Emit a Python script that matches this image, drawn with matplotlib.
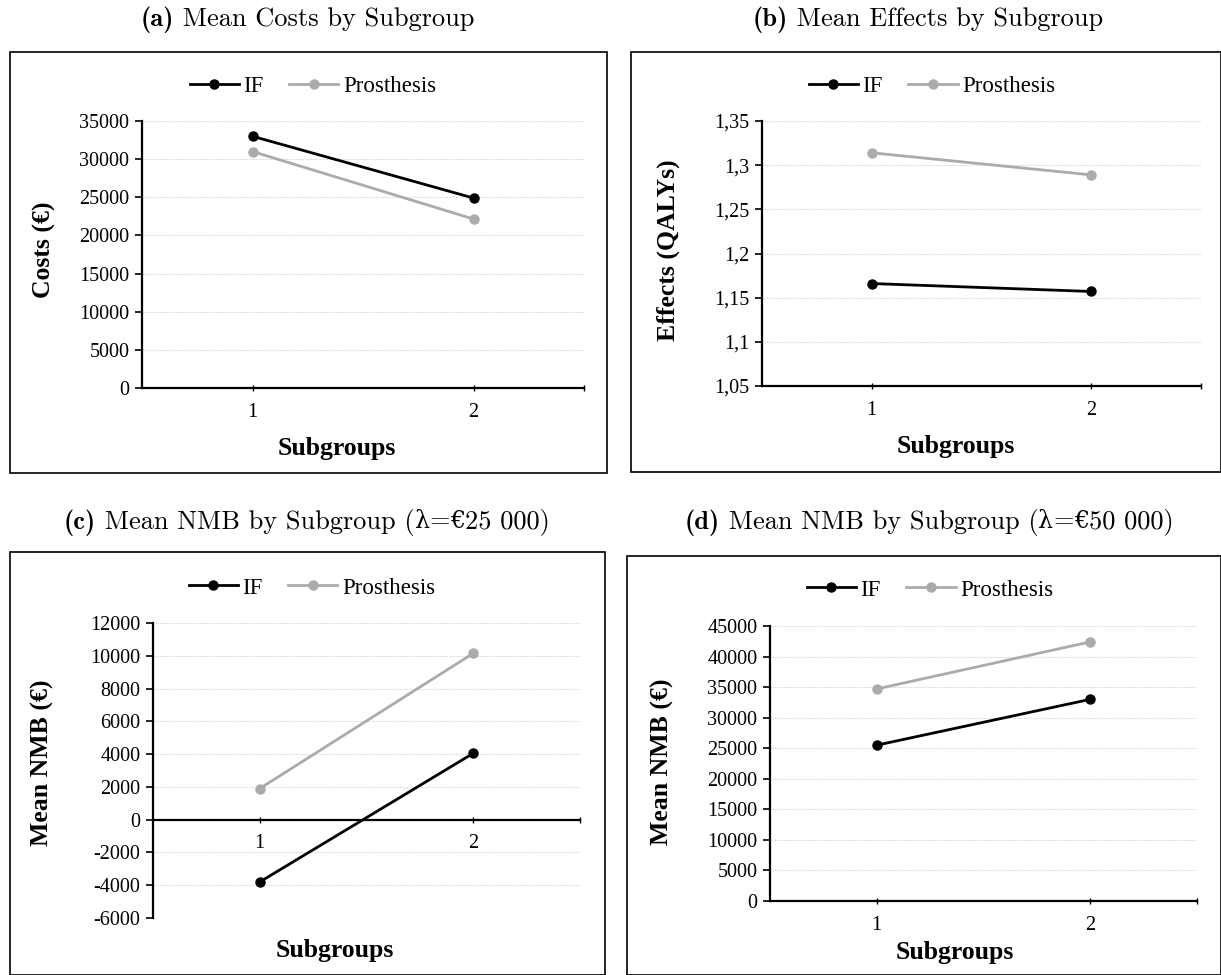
import matplotlib
matplotlib.use("Agg")
import matplotlib.pyplot as plt
from matplotlib.patches import Rectangle
from matplotlib.offsetbox import TextArea, HPacker, AnchoredOffsetbox

# ---------------- data ----------------
subgroups = [1, 2]
series_names = ["IF", "Prosthesis"]

costs_if = [33000, 24900]
costs_pros = [31000, 22150]

effects_if = [1.166, 1.157]
effects_pros = [1.314, 1.289]

nmb25_if = [-3800, 4050]
nmb25_pros = [1900, 10150]

nmb50_if = [25500, 33000]
nmb50_pros = [34700, 42400]

# title pieces: (text, font role)
titles = [
    [("(a)", "bold"), (" Mean Costs by Subgroup", "cm")],
    [("(b)", "bold"), (" Mean Effects by Subgroup", "cm")],
    [("(c)", "bold"), (" Mean NMB by Subgroup (", "cm"), ("λ", "sym"), ("=", "cm"),
     ("€", "sym"), ("25 000)", "cm")],
    [("(d)", "bold"), (" Mean NMB by Subgroup (", "cm"), ("λ", "sym"), ("=", "cm"),
     ("€", "sym"), ("50 000)", "cm")],
]
ylabels = ["Costs (€)", "Effects (QALYs)", "Mean NMB (€)", "Mean NMB (€)"]
xlabel = "Subgroups"

yticks_a = [0, 5000, 10000, 15000, 20000, 25000, 30000, 35000]
yticks_b = [1.05, 1.1, 1.15, 1.2, 1.25, 1.3, 1.35]
ytick_labels_b = ["1,05", "1,1", "1,15", "1,2", "1,25", "1,3", "1,35"]
yticks_c = [-6000, -4000, -2000, 0, 2000, 4000, 6000, 8000, 10000, 12000]
yticks_d = [0, 5000, 10000, 15000, 20000, 25000, 30000, 35000, 40000, 45000]

# ---------------- style ----------------
W, H = 1221, 975
plt.rcParams["axes.unicode_minus"] = False
SERIF = ["Liberation Serif", "DejaVu Serif"]
FONT_ROLE = {"bold": (["cmb10", "DejaVu Serif"], 19),
             "cm": (["cmr10", "DejaVu Serif"], 19),
             "sym": (["DejaVu Serif"], 17)}
C_IF = "black"
C_PR = "#ababab"

fig = plt.figure(figsize=(W / 100, H / 100), dpi=100)
fig.patch.set_facecolor("white")


def px_rect(x0, y0, x1, y1):
    return [x0 / W, 1 - y1 / H, (x1 - x0) / W, (y1 - y0) / H]


def add_title(parts, x, y):
    children = []
    for txt, role in parts:
        fam, size = FONT_ROLE[role]
        children.append(TextArea(txt, textprops=dict(family=fam, size=size, color="black")))
    box = HPacker(children=children, align="baseline", pad=0, sep=0)
    anch = AnchoredOffsetbox(loc="center", child=box, pad=0, borderpad=0, frameon=False,
                             bbox_to_anchor=(x / W, 1 - y / H), bbox_transform=fig.transFigure)
    fig.add_artist(anch)


panels = [
    dict(ax=(142, 121, 584, 388), frame=(10, 52, 607, 473), title=(307, 20),
         legend=(313, 86), ylab=(44, 250), xlab=(337, 449),
         d_if=costs_if, d_pr=costs_pros, yt=yticks_a, ytl=None, zero=False),
    dict(ax=(762, 121, 1201, 386), frame=(631, 52, 1221, 472), title=(928, 20),
         legend=(932, 86), ylab=(668, 250), xlab=(956, 447),
         d_if=effects_if, d_pr=effects_pros, yt=yticks_b, ytl=ytick_labels_b, zero=False),
    dict(ax=(153, 623, 580, 918), frame=(10, 552, 605, 975), title=(307, 522),
         legend=(312, 588), ylab=(42, 763), xlab=(335, 950),
         d_if=nmb25_if, d_pr=nmb25_pros, yt=yticks_c, ytl=None, zero=True),
    dict(ax=(770, 626, 1197, 901), frame=(627, 556, 1221, 975), title=(929, 522),
         legend=(930, 590), ylab=(662, 762), xlab=(955, 953),
         d_if=nmb50_if, d_pr=nmb50_pros, yt=yticks_d, ytl=None, zero=False),
]

for i, p in enumerate(panels):
    fx0, fy0, fx1, fy1 = p["frame"]
    fig.patches.append(Rectangle((fx0 / W, 1 - fy1 / H), (fx1 - fx0) / W, (fy1 - fy0) / H,
                                 transform=fig.transFigure, fill=False,
                                 edgecolor="black", linewidth=1.2, zorder=0))
    ax = fig.add_axes(px_rect(*p["ax"]))
    ax.set_facecolor("none")
    ax.plot(subgroups, p["d_if"], color=C_IF, lw=2.0, marker="o", ms=6.5,
            label=series_names[0], zorder=4, clip_on=False)
    ax.plot(subgroups, p["d_pr"], color=C_PR, lw=2.0, marker="o", ms=6.5,
            label=series_names[1], zorder=3, clip_on=False)
    ax.set_xlim(0.5, 2.5)
    ax.set_ylim(p["yt"][0], p["yt"][-1])
    ax.set_yticks(p["yt"])
    if p["ytl"] is not None:
        ax.set_yticklabels(p["ytl"])
    ax.set_xticks(subgroups)
    ax.set_xticks([2.5], minor=True)
    ax.grid(axis="y", color="#d4d4d4", linestyle=(0, (1, 1)), linewidth=0.8, zorder=0)
    ax.set_axisbelow(True)
    for s in ["top", "right"]:
        ax.spines[s].set_visible(False)
    for s in ["left", "bottom"]:
        ax.spines[s].set_linewidth(1.6)
    if p["zero"]:
        ax.spines["bottom"].set_position(("data", 0))
    ax.tick_params(axis="y", direction="out", length=5, width=1.2, labelsize=14.5, pad=4)
    ax.tick_params(axis="x", which="both", direction="inout", length=5, width=1.0,
                   labelsize=14.5, pad=8)
    for lab in ax.get_xticklabels() + ax.get_yticklabels():
        lab.set_family(SERIF)

    ax.set_ylabel(ylabels[i], family=SERIF, fontsize=18.5, fontweight="bold", va="center")
    ax.yaxis.set_label_coords(p["ylab"][0] / W, 1 - p["ylab"][1] / H, transform=fig.transFigure)
    ax.set_xlabel(xlabel, family=SERIF, fontsize=18.5, fontweight="bold", va="center")
    ax.xaxis.set_label_coords(p["xlab"][0] / W, 1 - p["xlab"][1] / H, transform=fig.transFigure)

    ax.legend(loc="center", bbox_to_anchor=(p["legend"][0] / W, 1 - p["legend"][1] / H),
              bbox_transform=fig.transFigure, ncol=2, frameon=False,
              handlelength=2.15, handletextpad=0.2, columnspacing=1.1,
              numpoints=1, prop={"family": SERIF, "size": 16.5})

    add_title(titles[i], *p["title"])

fig.savefig("out.png", dpi=100, facecolor="white")
